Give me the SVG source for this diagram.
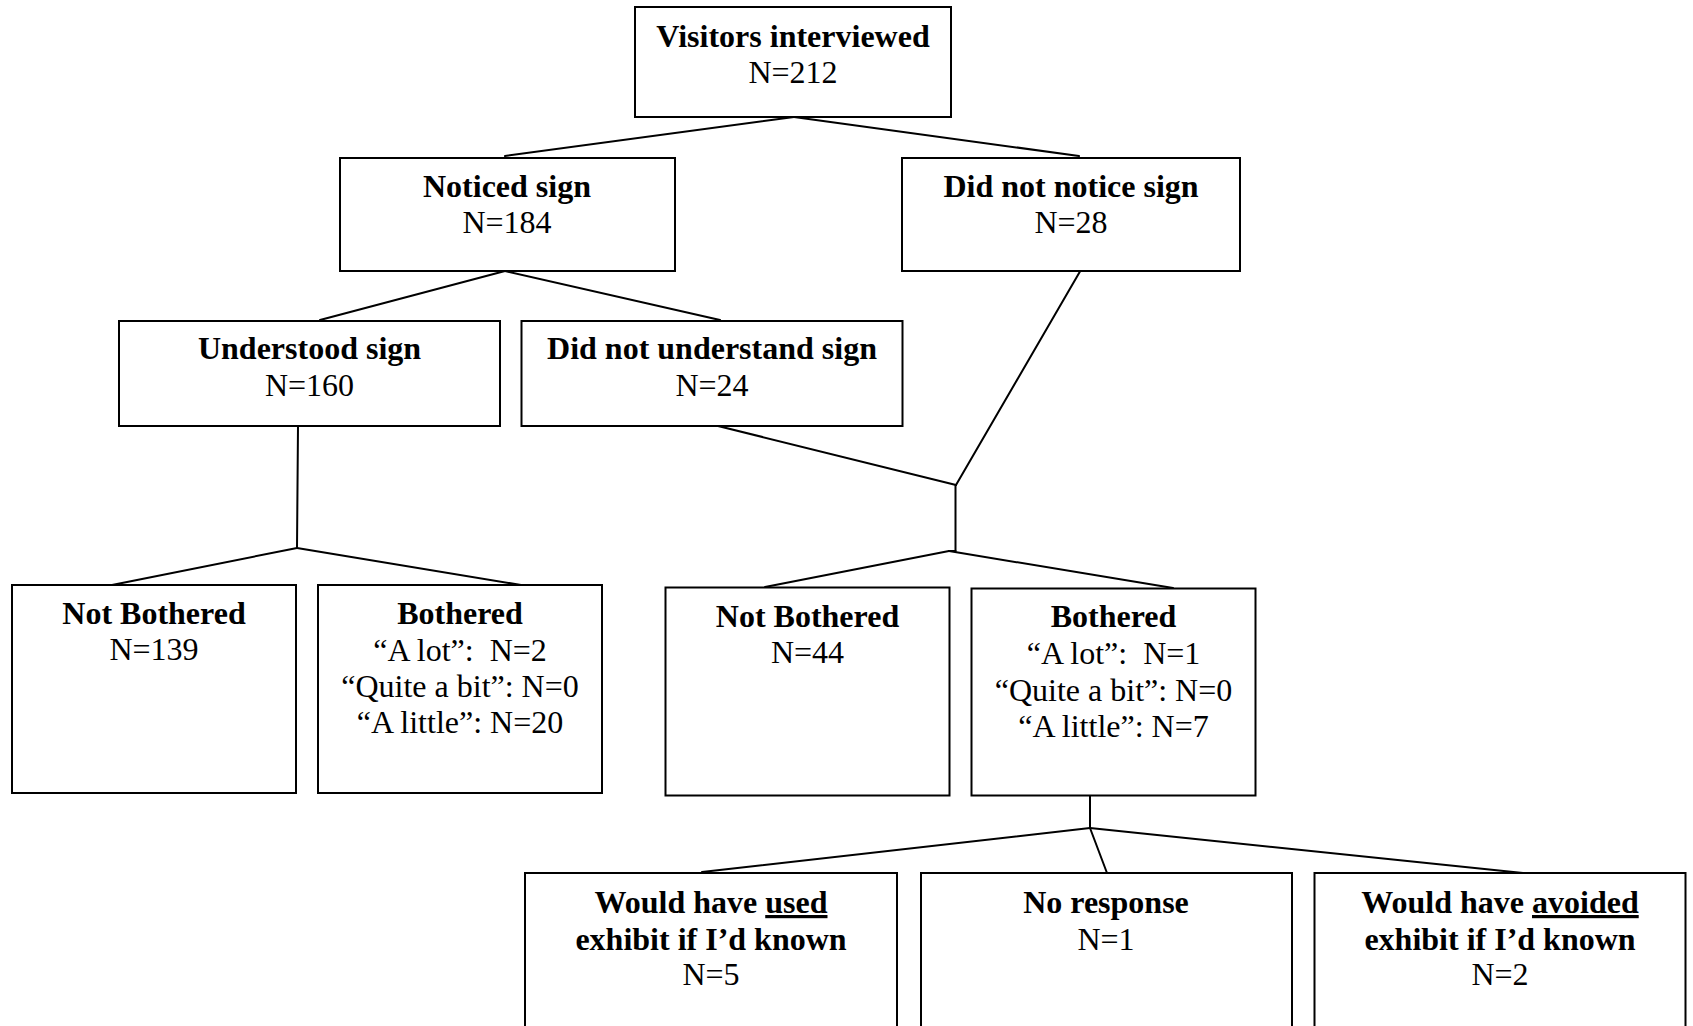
<svg xmlns="http://www.w3.org/2000/svg" width="1693" height="1026" viewBox="0 0 1693 1026">
<style>
.box{fill:#fff;stroke:#000;stroke-width:2}
.t{font-family:"Liberation Serif","Times New Roman",serif;font-size:32px;fill:#000;text-anchor:middle;white-space:pre}
.b{font-weight:bold}
.c line{stroke:#000;stroke-width:2;stroke-linecap:round}
</style>
<rect width="1693" height="1026" fill="#fff"/>
<g id="connectors" class="c">
<line x1="794" y1="117" x2="505" y2="156"/>
<line x1="794" y1="117" x2="1079" y2="156"/>
<line x1="505" y1="271" x2="320" y2="320"/>
<line x1="505" y1="271" x2="720" y2="320"/>
<line x1="298" y1="426" x2="297" y2="548"/>
<line x1="297" y1="548" x2="112" y2="585"/>
<line x1="297" y1="548" x2="521" y2="585"/>
<line x1="718" y1="426" x2="956" y2="485"/>
<line x1="1082" y1="268" x2="956" y2="485"/>
<line x1="955.5" y1="485" x2="955.5" y2="551"/>
<line x1="949" y1="551" x2="955.5" y2="551"/>
<line x1="949" y1="551" x2="765" y2="587"/>
<line x1="949" y1="551" x2="1173" y2="588"/>
<line x1="1090" y1="796" x2="1090" y2="828"/>
<line x1="1090" y1="828" x2="702" y2="872"/>
<line x1="1090" y1="828" x2="1107" y2="873"/>
<line x1="1090" y1="828" x2="1523" y2="873"/>
</g>
<g id="visitors">
<rect class="box" x="635" y="7" width="316" height="110"/>
<text class="t b" x="793" y="47">Visitors interviewed</text>
<text class="t" x="793" y="83">N=212</text>
</g>
<g id="noticed">
<rect class="box" x="340" y="158" width="335" height="113"/>
<text class="t b" x="507" y="197">Noticed sign</text>
<text class="t" x="507" y="233">N=184</text>
</g>
<g id="not-noticed">
<rect class="box" x="902" y="158" width="338" height="113"/>
<text class="t b" x="1071" y="197">Did not notice sign</text>
<text class="t" x="1071" y="233">N=28</text>
</g>
<g id="understood">
<rect class="box" x="119" y="321" width="381" height="105"/>
<text class="t b" x="309.5" y="359">Understood sign</text>
<text class="t" x="309.5" y="396">N=160</text>
</g>
<g id="not-understood">
<rect class="box" x="521.5" y="321" width="381" height="105"/>
<text class="t b" x="712" y="359">Did not understand sign</text>
<text class="t" x="712" y="396">N=24</text>
</g>
<g id="not-bothered-1">
<rect class="box" x="12" y="585" width="284" height="208"/>
<text class="t b" x="154" y="624">Not Bothered</text>
<text class="t" x="154" y="660">N=139</text>
</g>
<g id="bothered-1">
<rect class="box" x="318" y="585" width="284" height="208"/>
<text class="t b" x="460" y="624">Bothered</text>
<text class="t" x="460" y="661">“A lot”:  N=2</text>
<text class="t" x="460" y="697">“Quite a bit”: N=0</text>
<text class="t" x="460" y="733">“A little”: N=20</text>
</g>
<g id="not-bothered-2">
<rect class="box" x="665.5" y="587.5" width="284" height="208"/>
<text class="t b" x="807.5" y="627">Not Bothered</text>
<text class="t" x="807.5" y="663">N=44</text>
</g>
<g id="bothered-2">
<rect class="box" x="971.5" y="588.5" width="284" height="207"/>
<text class="t b" x="1113.5" y="627">Bothered</text>
<text class="t" x="1113.5" y="664">“A lot”:  N=1</text>
<text class="t" x="1113.5" y="701">“Quite a bit”: N=0</text>
<text class="t" x="1113.5" y="737">“A little”: N=7</text>
</g>
<g id="used">
<rect class="box" x="525" y="873" width="372" height="170"/>
<text class="t b" x="711" y="913">Would have <tspan text-decoration="underline">used</tspan></text>
<text class="t b" x="711" y="950">exhibit if I’d known</text>
<text class="t" x="711" y="985">N=5</text>
</g>
<g id="no-response">
<rect class="box" x="921" y="873" width="371" height="170"/>
<text class="t b" x="1106" y="913">No response</text>
<text class="t" x="1106" y="950">N=1</text>
</g>
<g id="avoided">
<rect class="box" x="1314.5" y="873" width="371" height="170"/>
<text class="t b" x="1500" y="913">Would have <tspan text-decoration="underline">avoided</tspan></text>
<text class="t b" x="1500" y="950">exhibit if I’d known</text>
<text class="t" x="1500" y="985">N=2</text>
</g>
</svg>
